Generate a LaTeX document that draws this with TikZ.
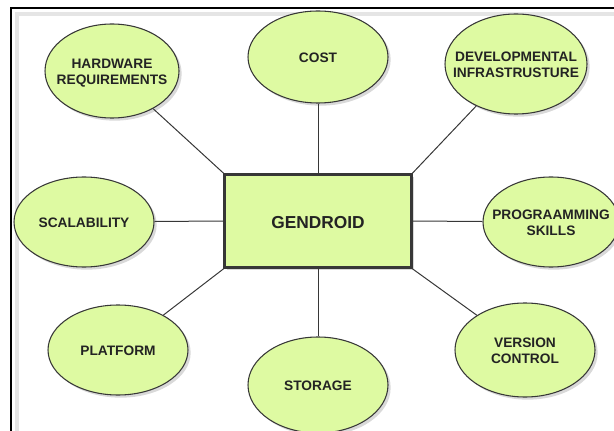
\documentclass[tikz,border=0pt]{standalone}
\usepackage{fontspec}
\setmainfont{Liberation Sans}
\usetikzlibrary{shapes.geometric, shadows}
\definecolor{leaf}{RGB}{222,250,162}
\definecolor{rim}{RGB}{55,55,55}
\definecolor{ink}{RGB}{35,35,35}
% text that does not widen its ellipse, set a little low
\newcommand{\topictext}[1]{\makebox[0pt]{\raisebox{-1.5pt}[\height][\depth]{\begin{tabular}{@{}c@{}}#1\end{tabular}}}}

\begin{document}
\begin{tikzpicture}[x=0.75pt, y=-0.75pt,
  bubble/.style={ellipse, draw=rim, line width=0.8pt, fill=leaf, inner sep=0pt,
    text=ink, font=\fontsize{10.3}{11.8}\selectfont\bfseries,
    drop shadow={opacity=0.3, shadow xshift=2pt, shadow yshift=-2pt}},
  hub/.style={rectangle, draw=rim, line width=1.8pt, fill=leaf, text=ink,
    minimum width=140pt, minimum height=70pt,
    font=\fontsize{13}{15}\selectfont\bfseries,
    drop shadow={opacity=0.3, shadow xshift=2pt, shadow yshift=-2pt}},
  link/.style={draw=rim, line width=0.75pt}]
\useasboundingbox (0,0) rectangle (614,431);
% outer frame
\draw[gray!20, line width=2.5pt] (17,431) -- (17,14) -- (614,14);
\draw[black, line width=1.6pt] (11,431) -- (11,8) -- (614,8);
% centre box
\node[hub] (core) at (318,221) {\raisebox{-1.5pt}[\height][\depth]{GENDROID}};
% topics round it
\foreach \n/\x/\y/\w/\h/\t in {
  hw/112/71/67/47/{HARDWARE\\REQUIREMENTS},
  cost/318/57/70/46/{COST},
  dev/516/64/71/50/{DEVELOPMENTAL\\INFRASTRUSTURE},
  scale/84/222/70/45/{SCALABILITY},
  prog/551/222/68/45/{PROGRAAMMING\\SKILLS},
  plat/118/350/70/45/{PLATFORM},
  store/318/385/70/48/{STORAGE},
  vers/525/350/70/47/{VERSION\\CONTROL}} {
  \node[bubble, minimum width={1.5pt*\w}, minimum height={1.5pt*\h}] (\n) at (\x,\y) {\topictext{\t}};
}
% spokes
\draw[link] (hw) -- (core.north west);
\draw[link] (cost) -- (core.north);
\draw[link] (dev) -- (core.north east);
\draw[link] (scale) -- (core.west);
\draw[link] (prog) -- (core.east);
\draw[link] (plat) -- (core.south west);
\draw[link] (store) -- (core.south);
\draw[link] (vers) -- (core.south east);
\end{tikzpicture}
\end{document}
